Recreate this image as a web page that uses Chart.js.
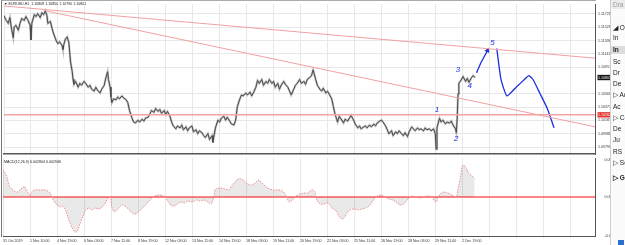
<!DOCTYPE html>
<html><head><meta charset="utf-8">
<script src="https://cdn.jsdelivr.net/npm/chart.js@4.4.1/dist/chart.umd.min.js"></script>
<style>
html,body{margin:0;padding:0;background:#fff;width:625px;height:245px;overflow:hidden;font-family:"Liberation Sans",Arial,sans-serif;}
#main{position:absolute;left:0;top:0;}
#osc{position:absolute;left:0;top:157px;}
.frame{position:absolute;left:1px;top:0px;width:594px;height:236px;border-left:1px solid #777;border-top:1px solid #aaa;pointer-events:none;}
.ttl{position:absolute;left:4px;top:2px;font-size:3.6px;color:#222;white-space:nowrap;}
.ind{position:absolute;left:4px;top:160px;font-size:3.6px;color:#222;white-space:nowrap;}
#side{position:absolute;left:610px;top:0;width:15px;height:245px;background:#fbfbfb;border-left:1px solid #cfcfcf;overflow:hidden;font-size:6.5px;color:#222;box-sizing:border-box;}
.it{position:absolute;left:2px;white-space:nowrap;line-height:8px;height:8px;}
.hd{position:absolute;left:0;top:0;width:15px;height:9px;background:#ececec;}
.sel{background:#dcdcdc;left:0;padding-left:2px;width:15px;font-weight:bold;}
.ico{position:absolute;left:7px;top:240px;width:6px;height:5px;background:#2a6fd0;}
</style></head>
<body>
<canvas id="main" width="610" height="158"></canvas>
<canvas id="osc" width="610" height="88"></canvas>
<div class="frame"></div>
<div class="ttl">▼ EURUSD,H1&nbsp; 1.10808 1.10850 1.10790 1.10801</div>
<div class="ind">MACD(12,26,9) 0.002804 0.002946</div>
<div id="side">
  <div class="hd"></div>
  <div class="it" style="top:1px;color:#999">Dra</div>
  <div class="it" style="top:24px">◢ Ob</div>
  <div class="it" style="top:34px">In</div>
  <div class="it sel" style="top:46px">In</div>
  <div class="it" style="top:58px">Sc</div>
  <div class="it" style="top:69px">Dr</div>
  <div class="it" style="top:80px">De</div>
  <div class="it" style="top:91px">▷ Ac</div>
  <div class="it" style="top:103px">Ac</div>
  <div class="it" style="top:114px">▷ Co</div>
  <div class="it" style="top:125px">De</div>
  <div class="it" style="top:136px">Ju</div>
  <div class="it" style="top:148px">RS</div>
  <div class="it" style="top:159px">▷ Sc</div>
  <div class="it" style="top:174px;font-weight:bold">▷ Ga</div>
  <div class="ico"></div>
</div>
<script>
// ---------- DATA ----------
// hours (H1 bars) since 31 Oct 2019 and close prices
const priceHours = [0,2,5,7,9,11,12,14,17,19,21,24,26,28,31,32,33,36,38,40,43,45,47,49,51,52,55,57,59,62,64,66,69,70,71,73,75,77,78,79,81,82,83,85,88,90,92,95,97,100,102,104,107,109,111,114,116,119,121,123,124,126,127,128,130,133,135,137,140,142,145,147,149,152,154,156,159,161,164,166,168,171,173,175,178,180,183,185,187,190,192,194,197,199,201,204,206,209,211,213,216,218,220,223,225,228,230,232,235,237,239,242,244,247,248,249,251,254,256,258,261,263,265,268,270,273,275,277,280,282,284,287,289,292,294,296,299,301,303,306,308,311,313,315,318,320,322,325,327,329,332,334,337,339,341,344,346,348,351,353,356,358,360,363,365,367,370,372,375,377,379,382,384,386,389,391,393,396,398,401,403,405,408,410,412,415,417,420,422,424,427,429,431,434,436,439,441,443,446,448,450,453,455,457,460,462,465,467,469,472,474,476,479,481,484,486,488,491,493,495,498,500,502,505,507,510,512,513,514,517,519,521,524,526,529,531,533,536,537,538,539,540,543,545,548,550,552,555,557,559];
const priceClose = [1.11697,1.11641,1.11585,1.11669,1.11501,1.11375,1.11529,1.11557,1.11487,1.11585,1.11655,1.11627,1.11683,1.11641,1.11557,1.11347,1.11585,1.11711,1.11683,1.11725,1.11669,1.11739,1.11711,1.11767,1.11697,1.11585,1.11613,1.11515,1.11431,1.11333,1.11291,1.11319,1.11263,1.11207,1.11277,1.11361,1.11389,1.11305,1.11165,1.11025,1.10885,1.10773,1.10703,1.10745,1.10661,1.10717,1.10689,1.10745,1.10717,1.10661,1.10689,1.10633,1.10605,1.10661,1.10619,1.10577,1.10633,1.10689,1.10801,1.10885,1.10773,1.10661,1.10521,1.10437,1.10493,1.10479,1.10521,1.10493,1.10535,1.10507,1.10479,1.10437,1.10325,1.10213,1.10157,1.10143,1.10185,1.10157,1.10199,1.10171,1.10213,1.10227,1.10269,1.10325,1.10297,1.10353,1.10311,1.10339,1.10283,1.10325,1.10269,1.10311,1.10241,1.10157,1.10101,1.10059,1.10101,1.10073,1.10115,1.10045,1.10087,1.10031,1.10073,1.10101,1.10017,1.10045,1.09989,1.10031,1.10003,1.09961,1.09933,1.09989,1.09905,1.09961,1.09863,1.09933,1.10073,1.10185,1.10157,1.10213,1.10241,1.10185,1.10227,1.10171,1.10129,1.10115,1.10185,1.10381,1.10493,1.10549,1.10535,1.10577,1.10549,1.10591,1.10535,1.10577,1.10661,1.10759,1.10717,1.10773,1.10689,1.10745,1.10717,1.10773,1.10717,1.10745,1.10661,1.10717,1.10633,1.10689,1.10745,1.10703,1.10661,1.10605,1.10549,1.10633,1.10689,1.10717,1.10773,1.10717,1.10745,1.10703,1.10773,1.10801,1.10829,1.10913,1.10773,1.10689,1.10633,1.10605,1.10647,1.10577,1.10605,1.10563,1.10493,1.10381,1.10269,1.10157,1.10241,1.10185,1.10143,1.10199,1.10171,1.10213,1.10255,1.10185,1.10129,1.10073,1.10101,1.10059,1.10087,1.10101,1.10073,1.10115,1.10087,1.10129,1.10101,1.10143,1.10171,1.10185,1.10157,1.10101,1.10045,1.09989,1.10031,1.09961,1.10017,1.09989,1.10031,1.09989,1.09961,1.10003,1.09947,1.10017,1.10087,1.10059,1.10031,1.10073,1.10045,1.10059,1.10031,1.10073,1.10045,1.10059,1.10031,1.10059,1.09989,1.09765,1.10073,1.10213,1.10157,1.10185,1.10129,1.10157,1.10143,1.10171,1.10115,1.10059,1.10003,1.10213,1.10563,1.10717,1.10773,1.10815,1.10745,1.10787,1.10731,1.10801,1.10829,1.10801];

// oscillator (MACD-style) values
const oscHours = [0,2,5,7,9,13,17,20,24,26,28,32,34,38,44,50,56,59,64,68,71,75,78,82,85,88,91,95,98,102,105,109,113,116,120,123,127,129,132,135,139,142,146,151,155,159,164,168,173,178,183,187,192,196,200,205,210,215,219,224,229,233,238,243,247,250,252,257,263,268,271,275,279,282,286,290,295,300,303,307,312,316,321,326,331,335,339,343,347,352,357,361,366,369,372,376,380,385,390,395,399,403,407,411,416,421,425,430,435,440,444,449,453,457,462,467,471,475,480,485,489,494,499,504,508,513,518,523,527,532,537,539,542,544,546,549,552,556,559];
const oscValues = [0.00324,0.00300,0.00228,0.00144,0.00108,0.00072,0.00060,0.00084,0.00120,0.00120,
 0.00084,0.00012,0.00060,0.00084,0.00084,0.00084,0.00048,-0.00024,-0.00096,-0.00120,
 -0.00108,-0.00180,-0.00276,-0.00372,-0.00420,-0.00408,-0.00324,-0.00228,-0.00156,-0.00132,
 -0.00156,-0.00132,-0.00144,-0.00132,-0.00096,-0.00036,0,-0.00120,-0.00180,-0.00156,
 -0.00108,-0.00096,-0.00120,-0.00168,-0.00204,-0.00192,-0.00144,-0.00108,-0.00048,0,
 0.00024,0.00024,0,-0.00060,-0.00108,-0.00096,-0.00060,-0.00072,-0.00048,-0.00060,
 -0.00036,-0.00048,-0.00036,-0.00060,-0.00084,0.00012,0.00096,0.00108,0.00096,0.00084,
 0.00132,0.00180,0.00216,0.00216,0.00192,0.00156,0.00144,0.00180,0.00204,0.00168,
 0.00120,0.00096,0.00084,0.00084,0.00072,0.00024,-0.00060,-0.00036,0.00012,0.00036,
 0.00048,0.00048,0.00084,0.00072,-0.00036,-0.00084,-0.00084,-0.00072,-0.00132,-0.00168,
 -0.00240,-0.00264,-0.00204,-0.00156,-0.00144,-0.00156,-0.00144,-0.00132,-0.00096,-0.00024,
 0.00012,0.00024,0,-0.00024,-0.00036,-0.00072,-0.00096,-0.00084,-0.00024,0.00012,
 0,-0.00012,0,0.00012,0,-0.00060,0.00036,0.00060,0.00048,0.00024,
 0,0.00084,0.00228,0.00360,0.00384,0.00348,0.00288,0.00252,0.00228];

// drawn objects (hour, price)
const trendAHours = [0, 702];      const trendAPrices = [1.11837, 1.11081];
const trendBHours = [49, 702];     const trendBPrices = [1.11767, 1.10087];
const levelHours = [0, 702];       const levelPrices = [1.10262, 1.10262];
const wave1Hours = [561, 566, 574];
const wave1Prices = [1.10871, 1.11011, 1.11193];
const wave2Hours = [585, 590, 597, 608, 619, 623, 628, 636, 645, 653];
const wave2Prices = [1.11221, 1.10773, 1.10535, 1.10661, 1.10787, 1.10829, 1.10773, 1.10577, 1.10353, 1.10073];
const waveLabelText = ["1", "2", "3", "4", "5"];
const waveLabelHours = [514, 537, 539, 553, 580];
const waveLabelPrices = [1.10339, 1.09919, 1.10913, 1.10675, 1.11305];

// axes
const timeTickHours = [0,32,64,96,128,160,192,224,256,288,320,352,384,416,448,480,512,544,576,608,640,672];
const timeLabels = ["31 Oct 2019","1 Nov 10:00","4 Nov 19:00","6 Nov 03:00","7 Nov 11:00","8 Nov 19:00","12 Nov 03:00","13 Nov 11:00","14 Nov 19:00","18 Nov 03:00","19 Nov 11:00","20 Nov 19:00","22 Nov 03:00","25 Nov 11:00","26 Nov 19:00","28 Nov 03:00","29 Nov 11:00","2 Dec 19:00"];
const priceTicks = [1.11721,1.11528,1.11336,1.11143,1.10951,1.10566,1.10373,1.10181,1.09988,1.09796];
const lastPrice = 1.10801;
const levelPrice = 1.10262;
const oscTicks = [0.00444, 0, -0.00468];

// ---------- BUILD ----------
const pts = (xs, ys) => xs.map((x, i) => ({x, y: ys[i]}));
const FONT = {family: '"Liberation Sans", Arial, sans-serif', size: 3.6};
const isSpecial = v => Math.abs(v - lastPrice) < 1e-7 || Math.abs(v - levelPrice) < 1e-7;

const waveLabels = {
  id: 'waveLabels',
  afterDatasetsDraw(chart) {
    const {ctx, scales: {x, y}} = chart;
    ctx.save();
    ctx.fillStyle = '#1a2ddf';
    ctx.font = 'italic 8px "Liberation Sans", Arial, sans-serif';
    ctx.textAlign = 'center';
    ctx.textBaseline = 'middle';
    waveLabelText.forEach((t, i) => ctx.fillText(t, x.getPixelForValue(waveLabelHours[i]), y.getPixelForValue(waveLabelPrices[i])));
    ctx.restore();
  }
};

new Chart(document.getElementById('main'), {
  type: 'line',
  data: {datasets: [
    {data: pts(levelHours, levelPrices), borderColor: '#f6a3a3', borderWidth: 1.5},
    {data: pts(trendAHours, trendAPrices), borderColor: '#f3a0a0', borderWidth: 1},
    {data: pts(trendBHours, trendBPrices), borderColor: '#f3a0a0', borderWidth: 1},
    {data: pts(priceHours, priceClose), borderColor: 'rgba(130,130,130,0.5)', borderWidth: 2.2},
    {data: pts(priceHours, priceClose), borderColor: '#111', borderWidth: 1},
    {data: pts(wave1Hours, wave1Prices), borderColor: '#1a2ddf', borderWidth: 1.3,
      pointStyle: 'triangle', backgroundColor: '#1a2ddf', pointBorderWidth: 0,
      pointRadius: c => c.dataIndex === wave1Hours.length - 1 ? 3 : 0, pointRotation: 25},
    {data: pts(wave2Hours, wave2Prices), borderColor: '#1a2ddf', borderWidth: 1.3, tension: 0.15}
  ]},
  options: {
    responsive: false, animation: false, events: [],
    layout: {padding: {left: 3, right: 0, top: 2, bottom: 1}},
    plugins: {legend: {display: false}, tooltip: {enabled: false}},
    elements: {point: {radius: 0}, line: {tension: 0}},
    scales: {
      x: {type: 'linear', min: 0, max: 701.6,
        grid: {color: '#e8e8e8', drawTicks: false}, border: {color: '#555', width: 1.5},
        ticks: {display: false},
        afterBuildTicks: s => { s.ticks = timeTickHours.map(v => ({value: v})); },
        afterFit: s => { s.height = 0; s.paddingLeft = 0; s.paddingRight = 0; }},
      y: {position: 'right', min: 1.09695, max: 1.11865,
        grid: {color: c => (c.tick && isSpecial(c.tick.value)) ? 'rgba(0,0,0,0)' : '#e8e8e8', tickLength: 2},
        border: {color: '#555', width: 1},
        ticks: {font: FONT, padding: 1, autoSkip: false,
          color: c => isSpecial(c.tick.value) ? '#fff' : '#333',
          showLabelBackdrop: true,
          backdropColor: c => Math.abs(c.tick.value - lastPrice) < 1e-7 ? '#111' : (Math.abs(c.tick.value - levelPrice) < 1e-7 ? '#e8302f' : 'rgba(0,0,0,0)'),
          backdropPadding: {top: 0.5, bottom: 0.5, left: 0.5, right: 1},
          callback: v => v.toFixed(5)},
        afterBuildTicks: s => { s.ticks = priceTicks.concat([levelPrice, lastPrice]).map(v => ({value: v})); },
        afterFit: s => { s.width = 15; s.paddingTop = 0; s.paddingBottom = 0; }}
    }
  },
  plugins: [waveLabels]
});

new Chart(document.getElementById('osc'), {
  type: 'line',
  data: {datasets: [
    {data: pts(oscHours, oscValues), fill: 'origin', backgroundColor: 'rgba(0,0,0,0.085)',
      borderColor: '#f08c8c', borderWidth: 1, borderDash: [1.5, 1.2], tension: 0.3},
    {data: pts([0, 702], [0, 0]), borderColor: '#ff5c5c', borderWidth: 1.6}
  ]},
  options: {
    responsive: false, animation: false, events: [],
    layout: {padding: {left: 3, right: 0, top: 1, bottom: 0}},
    plugins: {legend: {display: false}, tooltip: {enabled: false}},
    elements: {point: {radius: 0}, line: {tension: 0}},
    scales: {
      x: {type: 'linear', min: 0, max: 701.6,
        grid: {color: '#e8e8e8', tickLength: 2}, border: {color: '#555', width: 1},
        ticks: {font: FONT, color: '#333', align: 'start', padding: 0.5, autoSkip: false, maxRotation: 0,
          callback: (v, i) => (i < timeLabels.length ? timeLabels[i] : '')},
        afterBuildTicks: s => { s.ticks = timeTickHours.map(v => ({value: v})); },
        afterFit: s => { s.height = 9; s.paddingLeft = 0; s.paddingRight = 0; }},
      y: {position: 'right', min: -0.00468, max: 0.00468,
        grid: {display: false, drawOnChartArea: false}, border: {color: '#555', width: 1},
        ticks: {font: FONT, color: '#333', padding: 1.5, autoSkip: false,
          callback: v => (v === 0 ? '0.00' : v.toFixed(6))},
        afterBuildTicks: s => { s.ticks = oscTicks.map(v => ({value: v})); },
        afterFit: s => { s.width = 15; s.paddingTop = 0; s.paddingBottom = 0; }}
    }
  }
});
</script>
</body></html>
